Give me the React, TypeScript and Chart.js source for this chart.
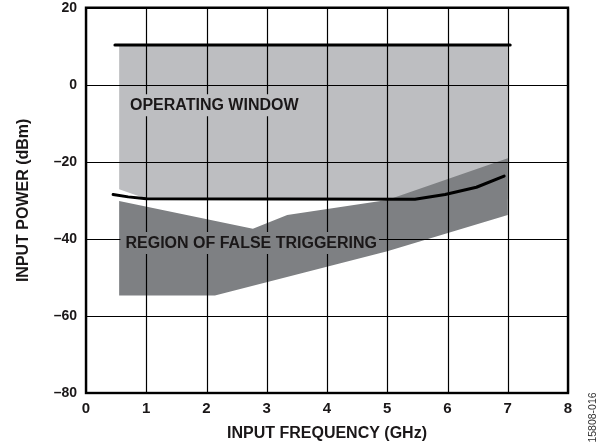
import React, { useEffect, useRef } from "react";
import Chart from "chart.js/auto";

// ---- data ----
const xTicks = [0, 1, 2, 3, 4, 5, 6, 7, 8];
const yTicks = [20, 0, -20, -40, -60, -80];

// upper power limit line (dBm)
const upperLimitX = [0.48, 7.04];
const upperLimitY = [10.3, 10.3];

// lower sensitivity line (dBm)
const lowerLimitX = [0.45, 0.7, 1.0, 5.46, 5.96, 6.48, 6.94];
const lowerLimitY = [-28.5, -29.1, -29.6, -29.7, -28.5, -26.6, -23.7];

// operating window (light grey polygon)
const windowX = [0.55, 7.0, 7.0, 5.46, 1.0, 0.55, 0.55];
const windowY = [10.3, 10.3, -29.7, -29.7, -29.6, -27.1, 10.3];

// region of false triggering (dark grey polygon)
const falseX = [0.55, 2.77, 3.34, 5.0, 7.0, 7.0, 5.0, 2.14, 0.55, 0.55];
const falseY = [-30.2, -37.4, -33.8, -29.9, -19.1, -33.8, -43.2, -54.7, -54.7, -30.2];

// region labels (left edge x in GHz, vertical centre in dBm)
const labelTexts = ["OPERATING WINDOW", "REGION OF FALSE TRIGGERING"];
const labelX = [0.73, 0.655];
const labelY = [-5.3, -41.1];

const figureId = "15808-016";

const FONT = "'Liberation Sans', Arial, Helvetica, sans-serif";
const TEXT = "#1a1718";
const LIGHT = "#bdbec1";
const DARK = "#7e8083";

const pts = (xs: number[], ys: number[]) => xs.map((x, i) => ({ x, y: ys[i] }));

const gridPlugin = {
  id: "gridAndLabels",
  afterDatasetDraw(chart: any, args: any) {
    if (args.index !== 2) return;
    const { ctx, chartArea: a } = chart;
    const x = chart.scales.x;
    const y = chart.scales.y;
    ctx.save();
    ctx.font = `bold 16px ${FONT}`;
    const boxes = labelTexts.map((t, i) => ({
      t,
      px: x.getPixelForValue(labelX[i]),
      py: y.getPixelForValue(labelY[i]),
      w: ctx.measureText(t).width,
    }));
    ctx.beginPath();
    ctx.rect(0, 0, chart.width, chart.height);
    boxes.forEach((b) => ctx.rect(b.px - 5, b.py - 11, b.w + 7, 22));
    ctx.clip("evenodd");
    ctx.strokeStyle = "#000";
    ctx.lineWidth = 1.2;
    ctx.beginPath();
    xTicks.forEach((v) => {
      const p = Math.round(x.getPixelForValue(v)) + 0.5;
      ctx.moveTo(p, a.top);
      ctx.lineTo(p, a.bottom);
    });
    yTicks.forEach((v) => {
      const p = Math.round(y.getPixelForValue(v)) + 0.5;
      ctx.moveTo(a.left, p);
      ctx.lineTo(a.right, p);
    });
    ctx.stroke();
    ctx.restore();

    ctx.save();
    ctx.font = `bold 16px ${FONT}`;
    ctx.fillStyle = TEXT;
    ctx.textAlign = "left";
    ctx.textBaseline = "middle";
    boxes.forEach((b) => ctx.fillText(b.t, b.px, b.py));
    ctx.restore();
  },
  afterDatasetsDraw(chart: any) {
    const { ctx, chartArea: a } = chart;
    ctx.save();
    ctx.strokeStyle = "#000";
    ctx.lineWidth = 2.4;
    ctx.strokeRect(a.left, a.top, a.right - a.left, a.bottom - a.top);
    ctx.restore();
  },
  afterDraw(chart: any) {
    const { ctx } = chart;
    ctx.save();
    ctx.translate(593, 417.5);
    ctx.rotate(-Math.PI / 2);
    ctx.font = `10.5px ${FONT}`;
    ctx.fillStyle = "#333";
    ctx.textAlign = "center";
    ctx.textBaseline = "middle";
    ctx.fillText(figureId, 0, 0);
    ctx.restore();
  },
};

export default function App() {
  const ref = useRef<HTMLCanvasElement | null>(null);
  useEffect(() => {
    if (!ref.current) return;
    const chart = new Chart(ref.current, {
      type: "line",
      data: {
        datasets: [
          {
            data: pts(upperLimitX, upperLimitY),
            borderColor: "#000",
            borderWidth: 3,
            pointRadius: 0,
            fill: false,
            borderCapStyle: "round",
            borderJoinStyle: "round",
          },
          {
            data: pts(lowerLimitX, lowerLimitY),
            borderColor: "#000",
            borderWidth: 3,
            pointRadius: 0,
            fill: false,
            borderCapStyle: "round",
            borderJoinStyle: "round",
          },
          {
            data: pts(falseX, falseY),
            borderColor: "rgba(0,0,0,0)",
            borderWidth: 0,
            backgroundColor: DARK,
            pointRadius: 0,
            fill: "shape",
          },
          {
            data: pts(windowX, windowY),
            borderColor: "rgba(0,0,0,0)",
            borderWidth: 0,
            backgroundColor: LIGHT,
            pointRadius: 0,
            fill: "shape",
          },
        ],
      } as any,
      options: {
        animation: false,
        responsive: false,
        devicePixelRatio: 1,
        layout: { padding: { left: 0, top: 0, right: 37, bottom: 0 } },
        plugins: { legend: { display: false }, tooltip: { enabled: false } },
        scales: {
          x: {
            type: "linear",
            min: 0,
            max: 8,
            afterBuildTicks: (s: any) => {
              s.ticks = xTicks.map((v) => ({ value: v }));
            },
            afterFit: (s: any) => {
              s.height = 55;
            },
            grid: { display: false, drawTicks: false },
            border: { display: false },
            ticks: {
              color: TEXT,
              font: { family: FONT, size: 15, weight: "bold" },
              padding: 7,
              maxRotation: 0,
              autoSkip: false,
            },
            title: {
              display: true,
              text: "INPUT FREQUENCY (GHz)",
              color: TEXT,
              font: { family: FONT, size: 16, weight: "bold" },
              padding: { top: 0, bottom: 4.4 },
            },
          },
          y: {
            type: "linear",
            min: -80,
            max: 20,
            afterBuildTicks: (s: any) => {
              s.ticks = yTicks.map((v) => ({ value: v }));
            },
            afterFit: (s: any) => {
              s.width = 86;
              s.paddingTop = 7.7;
              s.paddingBottom = 0;
            },
            grid: { display: false, drawTicks: false },
            border: { display: false },
            ticks: {
              color: TEXT,
              font: { family: FONT, size: 14, weight: "bold" },
              padding: 9,
              autoSkip: false,
              callback: (v: any) => (Number(v) < 0 ? "\u2013" + Math.abs(Number(v)) : String(v)),
            },
            title: {
              display: true,
              text: "INPUT POWER (dBm)",
              color: TEXT,
              font: { family: FONT, size: 16, weight: "bold" },
              padding: { top: 14.4, bottom: 0 },
            },
          },
        },
      } as any,
      plugins: [gridPlugin],
    });
    return () => chart.destroy();
  }, []);
  return (
    <div style={{ position: "absolute", left: 0, top: 0, width: 605, height: 448, background: "#fff" }}>
      <canvas ref={ref} width={605} height={448} style={{ display: "block" }} />
    </div>
  );
}
